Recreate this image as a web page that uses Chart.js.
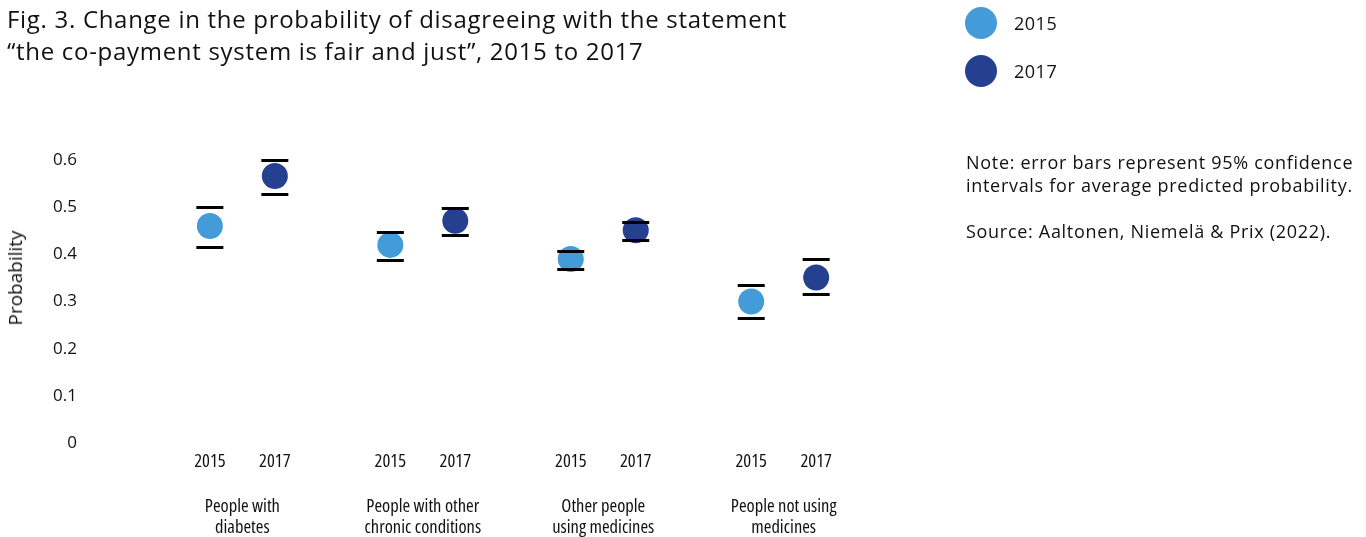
<!DOCTYPE html>
<html>
<head>
<meta charset="utf-8">
<script src="https://cdn.jsdelivr.net/npm/chart.js@4.4.1/dist/chart.umd.min.js"></script>
<style>
  html, body { margin: 0; padding: 0; background: #fff; }
  body {
    width: 1366px; height: 537px; position: relative; overflow: hidden;
    font-family: "Open Sans", "Noto Sans", sans-serif; color: #111;
  }
  #chart { position: absolute; left: 0; top: 0; }
  .title { position: absolute; left: 7px; top: 3px; font-size: 24px; letter-spacing: 0.7px; line-height: 32px; white-space: nowrap; }
  .ylabel {
    position: absolute; left: 15px; top: 278px; font-size: 19px; white-space: nowrap;
    transform: translate(-50%, -50%) rotate(-90deg);
  }
  .legend { position: absolute; left: 965px; top: 7px; }
  .legend .item { display: flex; align-items: center; height: 32px; margin-bottom: 16px; font-size: 18px; letter-spacing: 0.5px; }
  .legend .dot { width: 32px; height: 32px; border-radius: 50%; margin-right: 17px; }
  .note { position: absolute; left: 966px; top: 151px; font-size: 18px; letter-spacing: 0.7px; line-height: 23px; white-space: nowrap; }
</style>
</head>
<body>
<canvas id="chart" width="1366" height="537"></canvas>
<div class="title">Fig. 3. Change in the probability of disagreeing with the statement<br>“the co-payment system is fair and just”, 2015 to 2017</div>
<div class="ylabel">Probability</div>
<div class="legend" id="legend"></div>
<div class="note">Note: error bars represent 95% confidence<br>intervals for average predicted probability.<br><br>Source: Aaltonen, Niemelä &amp; Prix (2022).</div>
<script>
const groups = [
  ['People with', 'diabetes'],
  ['People with other', 'chronic conditions'],
  ['Other people', 'using medicines'],
  ['People not using', 'medicines']
];
const years = ['2015', '2017'];

// average predicted probability and 95% CI bounds
const p2015 = [0.46, 0.42, 0.39, 0.30];
const lo2015 = [0.415, 0.389, 0.369, 0.265];
const hi2015 = [0.500, 0.447, 0.408, 0.335];

const p2017 = [0.566, 0.471, 0.451, 0.351];
const lo2017 = [0.527, 0.441, 0.431, 0.316];
const hi2017 = [0.601, 0.499, 0.469, 0.390];

const colors = ['#439cd7', '#25408f'];
const yTicks = [0, 0.1, 0.2, 0.3, 0.4, 0.5, 0.6];

// each year sits a little left/right of its group's centre
const shift = [-0.18, 0.18];
const yearPos = [];
groups.forEach((g, i) => shift.forEach(s => yearPos.push(i + 1 + s)));

// condensed face for the category labels under the axis
const narrow = { family: '"Open Sans", sans-serif', size: 18.5, weight: 'normal condensed' };

function makeSet(label, values, lower, upper, k) {
  return {
    label: label,
    data: values.map((v, i) => ({ x: i + 1 + shift[k], y: v })),
    lower: lower,
    upper: upper,
    backgroundColor: colors[k],
    pointRadius: 13,
    pointHoverRadius: 13,
    pointBorderWidth: 0,
    clip: false
  };
}

// CI caps drawn on top of the points
const errorBars = {
  id: 'errorBars',
  afterDatasetsDraw(chart) {
    const { ctx, scales: { x, y } } = chart;
    ctx.save();
    ctx.strokeStyle = '#000';
    ctx.lineWidth = 3;
    chart.data.datasets.forEach(ds => {
      ds.data.forEach((pt, i) => {
        const px = x.getPixelForValue(pt.x);
        [ds.lower[i], ds.upper[i]].forEach(v => {
          const py = Math.round(y.getPixelForValue(v)) + 0.5;
          ctx.beginPath();
          ctx.moveTo(px - 13.5, py);
          ctx.lineTo(px + 13.5, py);
          ctx.stroke();
        });
      });
    });
    ctx.restore();
  }
};

new Chart(document.getElementById('chart'), {
  type: 'scatter',
  data: {
    datasets: [
      makeSet(years[0], p2015, lo2015, hi2015, 0),
      makeSet(years[1], p2017, lo2017, hi2017, 1)
    ]
  },
  options: {
    responsive: false,
    animation: false,
    layout: { padding: { left: 0, top: 160, right: 456, bottom: 0 } },
    plugins: { legend: { display: false }, tooltip: { enabled: false } },
    scales: {
      y: {
        min: 0, max: 0.6,
        grid: { display: false, drawTicks: false },
        border: { display: false },
        afterBuildTicks: s => { s.ticks = yTicks.map(v => ({ value: v })); },
        afterFit: s => { s.width = 98; },
        ticks: {
          padding: 21,
          color: '#111',
          font: { family: '"Open Sans", sans-serif', size: 17 },
          callback: v => v === 0 ? '0' : v.toFixed(1)
        }
      },
      x: {
        type: 'linear',
        position: 'bottom',
        weight: 0,
        min: 0.2, max: 4.7,
        grid: { display: false, drawTicks: false },
        border: { display: false },
        afterBuildTicks: s => { s.ticks = yearPos.map(v => ({ value: v })); },
        afterFit: s => { s.height = 40; },
        ticks: {
          padding: 8,
          autoSkip: false,
          maxRotation: 0,
          color: '#111',
          font: narrow,
          callback: (v, i) => years[i % 2]
        }
      },
      groups: {
        type: 'linear',
        position: 'bottom',
        weight: 1,
        min: 0.2, max: 4.7,
        grid: { display: false, drawTicks: false },
        border: { display: false },
        afterBuildTicks: s => { s.ticks = groups.map((g, i) => ({ value: i + 1 })); },
        afterFit: s => { s.height = 54; },
        ticks: {
          padding: 13.5,
          autoSkip: false,
          maxRotation: 0,
          color: '#111',
          font: Object.assign({ lineHeight: 1.135 }, narrow),
          callback: (v, i) => groups[i]
        }
      }
    }
  },
  plugins: [errorBars]
});

// legend from the same year list and colours
document.getElementById('legend').innerHTML = years.map((yr, k) =>
  '<div class="item"><span class="dot" style="background:' + colors[k] + '"></span>' + yr + '</div>'
).join('');
</script>
</body>
</html>
